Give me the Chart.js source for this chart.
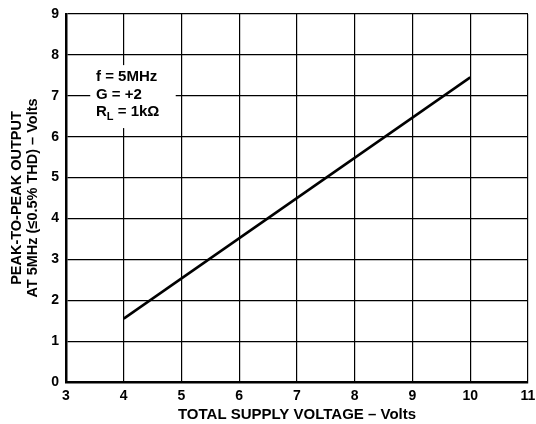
<!DOCTYPE html>
<html>
<head>
<meta charset="utf-8">
<script src="https://cdn.jsdelivr.net/npm/chart.js@4"></script>
<style>
  html, body { margin: 0; padding: 0; background: #fff; }
  #wrap { width: 536px; height: 424px; }
</style>
</head>
<body>
<div id="wrap"><canvas id="chart" width="536" height="424"></canvas></div>
<script>
// data
var supplyVolts = [4, 10];
var outputVolts = [1.55, 7.45];

var xTicks = [3, 4, 5, 6, 7, 8, 9, 10, 11];
var yTicks = [0, 1, 2, 3, 4, 5, 6, 7, 8, 9];

var noteLines = ['f = 5MHz', 'G = +2', 'R|L| = 1k\u03A9'];
var noteBox = { x0: 3.42, x1: 4.90, y0: 7.75, y1: 6.21 };
var noteTextX = 3.52;
var noteTextY = [7.46, 7.02, 6.60];

var FONT = '"Liberation Sans", Arial, sans-serif';

var notePlugin = {
    id: 'note',
    afterDatasetsDraw: function (chart) {
        var ctx = chart.ctx;
        var xs = chart.scales.x, ys = chart.scales.y;
        ctx.save();
        ctx.fillStyle = '#fff';
        var bx = xs.getPixelForValue(noteBox.x0);
        var by = ys.getPixelForValue(noteBox.y0);
        ctx.fillRect(bx, by, xs.getPixelForValue(noteBox.x1) - bx, ys.getPixelForValue(noteBox.y1) - by);
        ctx.fillStyle = '#000';
        ctx.textBaseline = 'middle';
        ctx.textAlign = 'left';
        var tx = xs.getPixelForValue(noteTextX);
        for (var i = 0; i < noteLines.length; i++) {
            var ty = ys.getPixelForValue(noteTextY[i]);
            var parts = noteLines[i].split('|');
            var x = tx;
            ctx.font = 'bold 15px ' + FONT;
            ctx.fillText(parts[0], x, ty);
            x += ctx.measureText(parts[0]).width;
            if (parts.length > 1) {
                ctx.font = 'bold 11px ' + FONT;
                ctx.fillText(parts[1], x, ty + 5);
                x += ctx.measureText(parts[1]).width;
                ctx.font = 'bold 15px ' + FONT;
                ctx.fillText(parts[2], x, ty);
            }
        }
        ctx.restore();
    }
};

var points = [];
for (var i = 0; i < supplyVolts.length; i++) {
    points.push({ x: supplyVolts[i], y: outputVolts[i] });
}

new Chart(document.getElementById('chart'), {
    type: 'scatter',
    data: {
        datasets: [{
            data: points,
            showLine: true,
            borderColor: '#000',
            borderWidth: 2.5,
            pointRadius: 0,
            fill: false
        }]
    },
    options: {
        responsive: false,
        animation: false,
        layout: { padding: { top: 14, right: 8, left: 0, bottom: 0 } },
        plugins: {
            legend: { display: false },
            tooltip: { enabled: false }
        },
        scales: {
            x: {
                type: 'linear',
                min: 3,
                max: 11,
                afterFit: function (s) { s.height = 42; s.paddingLeft = 0; s.paddingRight = 0; },
                afterBuildTicks: function (s) { s.ticks = xTicks.map(function (v) { return { value: v }; }); },
                grid: { color: '#000', lineWidth: 1.2, drawTicks: false },
                border: { color: '#000', width: 2.5 },
                ticks: { color: '#000', padding: 6, maxRotation: 0, font: { family: FONT, size: 14, weight: 'bold' } },
                title: {
                    display: true,
                    text: 'TOTAL SUPPLY VOLTAGE \u2013 Volts',
                    color: '#000',
                    font: { family: FONT, size: 15, weight: 'bold', lineHeight: 1.2 },
                    padding: { top: 0, bottom: 0 }
                }
            },
            y: {
                type: 'linear',
                min: 0,
                max: 9,
                afterFit: function (s) { s.width = 66; s.paddingTop = 0; s.paddingBottom = 0; },
                afterBuildTicks: function (s) { s.ticks = yTicks.map(function (v) { return { value: v }; }); },
                grid: { color: '#000', lineWidth: 1.2, drawTicks: false },
                border: { color: '#000', width: 2.5 },
                ticks: { color: '#000', padding: 7, font: { family: FONT, size: 14, weight: 'bold' } },
                title: {
                    display: true,
                    text: ['PEAK-TO-PEAK OUTPUT', 'AT 5MHz (\u22640.5% THD) \u2013 Volts'],
                    color: '#000',
                    font: { family: FONT, size: 14.5, weight: 'bold', lineHeight: 1.1 },
                    padding: { top: 9, bottom: 0 }
                }
            }
        }
    },
    plugins: [notePlugin]
});
</script>
</body>
</html>
